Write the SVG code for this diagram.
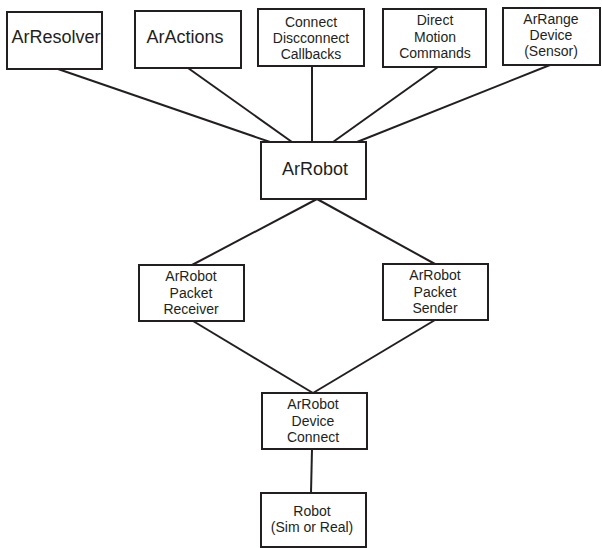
<svg xmlns="http://www.w3.org/2000/svg" width="602" height="548" viewBox="0 0 602 548">
<style>
rect{fill:#fff;stroke:#231f20;stroke-width:2}
line{stroke:#231f20;stroke-width:2}
text{font-family:"Liberation Sans",Arial,sans-serif;fill:#231f20;text-anchor:middle}
.b{font-size:18px}
.s{font-size:14px}
</style>
<rect x="0" y="0" width="602" height="548" style="fill:#fff;stroke:none"/>
<g id="connectors">
<line x1="58" y1="69" x2="270" y2="142"/>
<line x1="188" y1="68" x2="292" y2="142"/>
<line x1="312" y1="66" x2="312" y2="142"/>
<line x1="438" y1="67" x2="333" y2="142"/>
<line x1="550" y1="65" x2="357" y2="142"/>
<line x1="317" y1="199" x2="192" y2="265"/>
<line x1="317" y1="199" x2="435" y2="264"/>
<line x1="193" y1="321" x2="313" y2="393"/>
<line x1="435" y1="320" x2="313" y2="393"/>
<line x1="312" y1="449" x2="311" y2="493"/>
</g>
<g id="arresolver"><rect x="7" y="12" width="95" height="57"/><text class="b" x="56" y="43">ArResolver</text></g>
<g id="aractions"><rect x="135" y="11" width="106" height="57"/><text class="b" x="185" y="43">ArActions</text></g>
<g id="callbacks"><rect x="258" y="9" width="106" height="57"/><text class="s" x="311" y="27">Connect</text><text class="s" x="311" y="43">Discconnect</text><text class="s" x="311" y="59">Callbacks</text></g>
<g id="directmotion"><rect x="383" y="9" width="103" height="58"/><text class="s" x="435" y="25">Direct</text><text class="s" x="435" y="42">Motion</text><text class="s" x="435" y="58">Commands</text></g>
<g id="arrange"><rect x="503" y="8" width="97" height="57"/><text class="s" x="551" y="24">ArRange</text><text class="s" x="551" y="40">Device</text><text class="s" x="551" y="56">(Sensor)</text></g>
<g id="arrobot"><rect x="261" y="142" width="105" height="57"/><text class="b" x="315" y="175">ArRobot</text></g>
<g id="receiver"><rect x="139" y="265" width="105" height="56"/><text class="s" x="191" y="281">ArRobot</text><text class="s" x="191" y="298">Packet</text><text class="s" x="191" y="314">Receiver</text></g>
<g id="sender"><rect x="383" y="264" width="105" height="56"/><text class="s" x="435" y="280">ArRobot</text><text class="s" x="435" y="297">Packet</text><text class="s" x="435" y="313">Sender</text></g>
<g id="deviceconnect"><rect x="262" y="393" width="105" height="56"/><text class="s" x="313" y="409">ArRobot</text><text class="s" x="313" y="426">Device</text><text class="s" x="313" y="442">Connect</text></g>
<g id="robot"><rect x="261" y="493" width="105" height="54"/><text class="s" x="312" y="516">Robot</text><text class="s" x="312" y="532">(Sim or Real)</text></g>
</svg>
